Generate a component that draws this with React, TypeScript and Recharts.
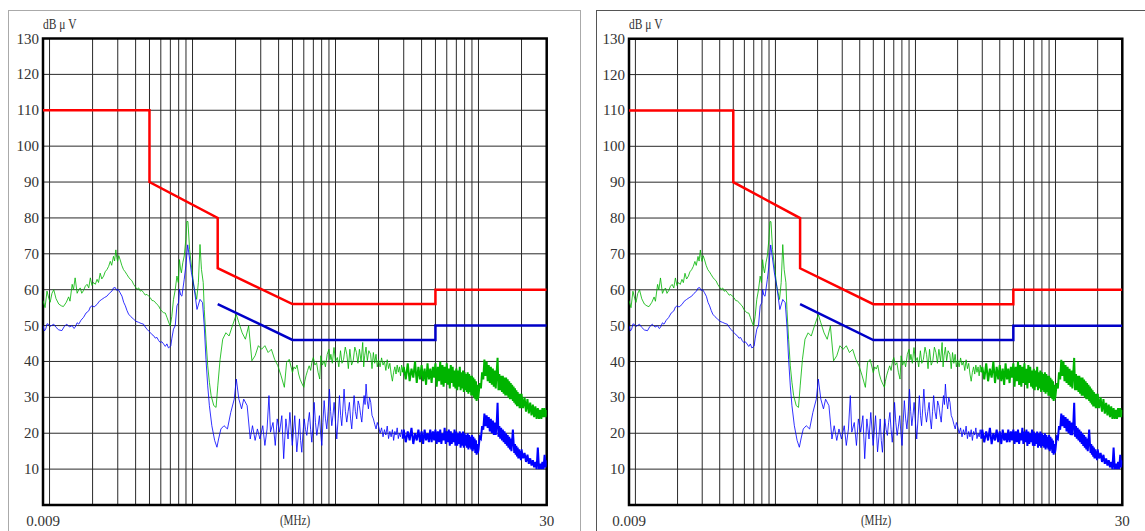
import React from 'react';
import { ComposedChart, Line, XAxis, YAxis, CartesianGrid, ReferenceArea } from 'recharts';

// ---------- axis ticks ----------
const X_TICKS = [0.009, 0.01, 0.02, 0.03, 0.04, 0.05, 0.06, 0.07, 0.08, 0.09, 0.1, 0.2, 0.3, 0.4, 0.5, 0.6, 0.7, 0.8, 0.9, 1, 2, 3, 4, 5, 6, 7, 8, 9, 10, 20, 30];
const X_LABELS: Record<string, string> = { '0.009': '0.009', '30': '30' };
const Y_TICKS = [0, 10, 20, 30, 40, 50, 60, 70, 80, 90, 100, 110, 120, 130];
const X_UNIT = '(MHz)';
const Y_UNIT = 'dB μ V';

// ---------- limit lines [MHz, dBµV] ----------
const QP_LIMIT: [number, number][] = [[0.009, 110], [0.05, 110], [0.05, 90], [0.15, 80], [0.15, 66], [0.5, 56], [5, 56], [5, 60], [30, 60]];
const AV_LIMIT: [number, number][] = [[0.15, 56], [0.5, 46], [5, 46], [5, 50], [30, 50]];

// ---------- measured traces, low-frequency part [MHz, dBµV] ----------
const GREEN_LOW: [number, number][] = [
  [0.009, 57], [0.0093, 55], [0.0096, 59.6], [0.0099, 57.5], [0.0101, 56.5], [0.0104, 59], [0.0107, 60], [0.0111, 57.5], [0.0116, 56], [0.0121, 55.5],
  [0.0125, 55.3], [0.0131, 56.5], [0.0136, 58], [0.0139, 56.8], [0.0144, 61.5], [0.0147, 60], [0.0151, 63.3], [0.0156, 59], [0.016, 60], [0.0164, 60.5],
  [0.0168, 59], [0.0173, 59.8], [0.0178, 61], [0.0183, 61.5], [0.0188, 60.5], [0.0193, 63.3], [0.0198, 61.2], [0.0203, 62], [0.0209, 61.5], [0.0215, 62.9],
  [0.022, 62], [0.0226, 64.6], [0.0232, 63], [0.0239, 63.8], [0.0245, 65], [0.0252, 65.6], [0.0259, 66.5], [0.0266, 67.9], [0.0272, 66.8], [0.028, 69.3],
  [0.0285, 68], [0.0291, 71.1], [0.0295, 69], [0.0299, 67.9], [0.0305, 69.5], [0.0312, 68.3], [0.032, 66.8], [0.0329, 65.6], [0.0338, 65], [0.0348, 64.2],
  [0.0357, 63.5], [0.0367, 62.9], [0.0377, 62.5], [0.0387, 61.5], [0.0398, 60.8], [0.0409, 60.1], [0.042, 60.5], [0.0431, 59.6], [0.0442, 59.8], [0.0454, 59.2],
  [0.0467, 58.5], [0.048, 58.7], [0.0493, 58.2], [0.0506, 57.8], [0.052, 57], [0.0534, 56.9], [0.0549, 56.5], [0.0564, 55.9], [0.0579, 55.5], [0.0594, 54.6],
  [0.061, 54], [0.0627, 53.6], [0.0645, 53.5], [0.0662, 52.3], [0.068, 51], [0.0698, 49.9], [0.0716, 52.5], [0.0736, 57.3], [0.0757, 60], [0.0778, 63.8],
  [0.0795, 62], [0.081, 68.4], [0.0823, 66], [0.0836, 64.7], [0.0855, 67.5], [0.0875, 69.4], [0.0898, 74], [0.0913, 79], [0.0929, 79], [0.0954, 71.2],
  [0.0983, 66.6], [0.1022, 61], [0.1069, 57.3], [0.1099, 62], [0.1128, 72.6], [0.1155, 65.6], [0.1188, 62], [0.1208, 54.5], [0.1242, 46.2], [0.1277, 38.8],
  [0.1312, 34.2], [0.1349, 30.5], [0.1408, 27.7], [0.1461, 27.2], [0.1502, 33.2], [0.1559, 40.6], [0.1626, 46.2], [0.1712, 48], [0.1802, 47.1], [0.1899, 49.9],
  [0.2024, 53.1], [0.211, 50.8], [0.2224, 48], [0.2343, 46.2], [0.2469, 49.9], [0.2602, 40.2], [0.2741, 41.6], [0.2888, 44.4], [0.3043, 43.4], [0.3207, 44.4],
  [0.3379, 42.5], [0.356, 43.4], [0.3751, 40.6], [0.3952, 38.8], [0.4164, 36], [0.4388, 32.8], [0.455, 39.7], [0.4745, 40.6],
  [0.5, 36.9], [0.512, 38.5], [0.5245, 37.9], [0.538, 39], [0.5522, 36.5], [0.566, 35], [0.58, 34], [0.6, 32.8], [0.61, 34.5], [0.6217, 36],
  [0.638, 37.5], [0.6544, 38.8], [0.67, 37.5], [0.685, 40], [0.7, 41.1], [0.718, 39], [0.7372, 39.7], [0.755, 37], [0.776, 35.1], [0.79, 41.6],
  [0.81, 39], [0.832, 40.2], [0.85, 38.5], [0.875, 42], [0.9, 43.4], [0.915, 40.5], [0.928, 42], [0.95, 39.5], [0.976, 43.9], [1.0, 40],
  [1.03, 41.1], [1.055, 38.5], [1.084, 43], [1.11, 39.5], [1.139, 40.6], [1.17, 44], [1.2, 42], [1.23, 38], [1.26, 43.4], [1.295, 39],
  [1.33, 40.2], [1.365, 44], [1.4, 42.5], [1.435, 39.5], [1.47, 43.4], [1.51, 40], [1.55, 45.3], [1.575, 38.5], [1.6, 41.6], [1.635, 44],
  [1.67, 40.2], [1.71, 43], [1.76, 42], [1.8, 38], [1.84, 42.5], [1.88, 39.5], [1.92, 42], [1.96, 38.5],
];

const BLUE_LOW: [number, number][] = [
  [0.009, 50], [0.0092, 48.5], [0.0094, 49], [0.0096, 50.5], [0.0098, 50.4], [0.0101, 49.8], [0.0107, 50.4], [0.0111, 49.5], [0.0116, 48.8], [0.0122, 48.6],
  [0.0127, 49.8], [0.0132, 50.4], [0.0138, 49.6], [0.0144, 50], [0.0148, 49.2], [0.0151, 49.5], [0.0156, 50.8], [0.016, 50.4], [0.0166, 51.5], [0.0173, 52.3],
  [0.018, 53.5], [0.0188, 54.1], [0.0193, 55.2], [0.0198, 55.5], [0.0205, 55.2], [0.0215, 55.9], [0.0223, 56.8], [0.0232, 57.3], [0.0242, 57.8], [0.0252, 58.2],
  [0.0262, 59], [0.0273, 59.6], [0.028, 60.5], [0.0288, 60.6], [0.0295, 59.8], [0.0302, 60.1], [0.031, 59.3], [0.0321, 58.2], [0.033, 56.5], [0.0339, 55.5],
  [0.0348, 54.2], [0.0357, 53.2], [0.037, 52.5], [0.0387, 51.8], [0.0402, 51.2], [0.042, 50.9], [0.0437, 50.6], [0.0454, 50.4], [0.0467, 49.6], [0.048, 49],
  [0.0493, 48.5], [0.0506, 48.1], [0.052, 47.5], [0.0534, 47.2], [0.0549, 46.5], [0.0564, 46.7], [0.058, 45.8], [0.0594, 45.3], [0.061, 45.5], [0.0627, 44.9],
  [0.0645, 44.2], [0.0662, 44.9], [0.0678, 43.8], [0.0692, 44], [0.0705, 44.4], [0.0716, 46.3], [0.0736, 49], [0.0757, 50], [0.0778, 55.5], [0.0799, 56.4],
  [0.081, 60.1], [0.0827, 58.5], [0.0843, 58.2], [0.0875, 62.9], [0.0898, 66.6], [0.0925, 72.5], [0.0948, 69.4], [0.0983, 64.7], [0.1022, 61], [0.1075, 54.5],
  [0.1128, 57.3], [0.1175, 56.4], [0.1208, 49.9], [0.1242, 40.6], [0.1277, 33.2], [0.1312, 27.7], [0.1365, 22.1], [0.1428, 18], [0.1482, 16.1], [0.1522, 18.4],
  [0.158, 21.2], [0.166, 22.1], [0.1755, 21.2], [0.1851, 25.8], [0.1958, 29.5], [0.2024, 35.1], [0.211, 29.5], [0.2203, 26.8], [0.2281, 29.5], [0.241, 27.7],
  [0.2533, 18.4], [0.2627, 22.1], [0.2741, 18], [0.2843, 21.2], [0.2962, 18.4], [0.3099, 22.1], [0.3207, 16.6], [0.3322, 21.2], [0.3425, 30.5], [0.351, 20.3],
  [0.3655, 23], [0.379, 16.6], [0.3911, 24], [0.4062, 20.3], [0.4213, 24.9], [0.4341, 12.9], [0.4497, 24], [0.4658, 18.4], [0.4797, 25.8], [0.4985, 16.6],
  [0.5189, 24.9], [0.5362, 14.8], [0.548, 19], [0.56, 24], [0.57, 18], [0.581, 14.7], [0.592, 20], [0.604, 24], [0.617, 21], [0.63, 19.4],
  [0.643, 23], [0.657, 25.8], [0.67, 21], [0.683, 17.5], [0.696, 22], [0.709, 28.6], [0.724, 23], [0.74, 19.4], [0.756, 22], [0.772, 24.9],
  [0.787, 20], [0.802, 16.6], [0.817, 23], [0.833, 29.1], [0.851, 24], [0.869, 21.2], [0.888, 26], [0.907, 32.3], [0.925, 26], [0.942, 22.1],
  [0.96, 25], [0.978, 28.6], [1.0, 23], [1.021, 18.4], [1.043, 24], [1.066, 30.5], [1.086, 25], [1.106, 22.1], [1.127, 27], [1.148, 32.3],
  [1.173, 26], [1.199, 23.1], [1.225, 26], [1.251, 28.6], [1.275, 24], [1.299, 21.2], [1.324, 26], [1.349, 30.5], [1.378, 26], [1.408, 24],
  [1.44, 29], [1.47, 27.7], [1.5, 25], [1.527, 23.1], [1.555, 27], [1.585, 30.5], [1.61, 28], [1.636, 33.7], [1.667, 29], [1.699, 26.8],
  [1.73, 30], [1.764, 28.6], [1.8, 25], [1.841, 24], [1.88, 22.5], [1.922, 21.2], [1.96, 23],
];

// ---------- measured traces, dense sweep part (2–30 MHz) ----------
const DENSE_F = [
  2.0, 2.05, 2.1, 2.15, 2.2, 2.25, 2.3, 2.35, 2.4, 2.45, 2.5, 2.55, 2.6, 2.65, 2.7, 2.75, 2.8, 2.85, 2.9, 2.95,
  3.0, 3.1, 3.2, 3.3, 3.4, 3.5, 3.6, 3.7, 3.8, 3.9, 4.0, 4.1, 4.2, 4.3, 4.4, 4.5, 4.6, 4.7, 4.8, 4.9,
  5.0, 5.1, 5.2, 5.3, 5.4, 5.5, 5.6, 5.7, 5.8, 5.9, 6.0, 6.1, 6.2, 6.3, 6.4, 6.5, 6.6, 6.7, 6.8, 6.9,
  7.0, 7.1, 7.2, 7.3, 7.4, 7.5, 7.6, 7.7, 7.8, 7.9, 8.0, 8.1, 8.2, 8.3, 8.4, 8.5, 8.6, 8.7, 8.8, 8.9,
  9.0, 9.1, 9.2, 9.3, 9.4, 9.5, 9.6, 9.7, 9.8, 9.9,
  10.0, 10.2, 10.4, 10.6, 10.8, 11.0, 11.2, 11.4, 11.6, 11.8, 12.0, 12.2, 12.4, 12.6, 12.8, 13.0, 13.2, 13.4, 13.6, 13.8,
  14.0, 14.2, 14.4, 14.6, 14.8, 15.0, 15.2, 15.4, 15.6, 15.8, 16.0, 16.2, 16.4, 16.6, 16.8, 17.0, 17.2, 17.4, 17.6, 17.8,
  18.0, 18.2, 18.4, 18.6, 18.8, 19.0, 19.2, 19.4, 19.6, 19.8,
  20, 20.5, 21, 21.5, 22, 22.5, 23, 23.5, 24, 24.5, 25, 25.5, 26, 26.5, 27, 27.5, 28, 28.5, 29, 29.5, 30,
];
const GREEN_DENSE = [
  40.5, 38.5, 41, 39, 40, 37.5, 40.5, 38, 39.5, 36.5, 34.5, 37, 38.5, 36.5, 39, 37, 38.5, 36, 39, 37,
  38.5, 35, 39.5, 34.5, 38, 35.5, 40, 34, 38.5, 35, 39, 34.5, 38, 33.5, 39.5, 35, 38, 34, 38.5, 35.5,
  39.5, 33, 38.5, 34.5, 40, 33.5, 39, 33, 38.5, 34, 39.5, 33.5, 38, 32.5, 39, 34, 38.5, 33, 37.5, 32.5,
  38, 32, 37.5, 33, 38.5, 32, 37, 32.5, 37.5, 31.5, 37, 32, 36.5, 31.5, 37, 31, 36.5, 31.5, 36, 30.5,
  36, 30.5, 35.5, 30, 35, 29.5, 34.5, 29, 33.5, 29.5,
  30.5, 34, 32.5, 37, 35, 40.5, 36, 40, 34.5, 39, 34, 38.5, 33.5, 38, 33, 37.5, 32.5, 37, 41, 32,
  36.5, 32, 36, 31.5, 36, 31, 35.5, 30.5, 35.5, 30.5, 35, 30, 34.5, 29.5, 34, 29.5, 33.5, 29, 33, 28.5,
  32.5, 28, 32, 27.5, 31.5, 27.5, 31, 27, 31, 27,
  31, 27, 30, 26, 29.5, 25.5, 28.5, 25, 28, 24.5, 27.5, 24, 27, 24, 26.5, 24, 27, 24.5, 27, 24.5, 26.5,
];
const BLUE_DENSE = [
  22, 20, 21.5, 19, 21, 19.5, 22, 18.5, 20.5, 19, 21, 18, 20.5, 19.5, 21.5, 18.5, 20, 19, 21, 18.5,
  21, 17.5, 20.5, 18, 21.5, 17, 20, 18, 21, 17.5, 20.5, 17, 21, 18, 20, 17.5, 21, 17.5, 20.5, 18,
  21, 17, 20.5, 17.5, 21, 17, 20, 18, 21.5, 17, 20.5, 17.5, 21, 16.5, 20.5, 17, 20, 17.5, 21, 16.5,
  20.5, 16.5, 20, 17, 20.5, 16, 20, 16.5, 20.5, 16, 20, 16.5, 19.5, 16, 20, 15.5, 19.5, 16, 19, 15.5,
  19.5, 15, 19, 15.5, 18.5, 14.5, 18, 14, 17, 14.5,
  15.5, 19, 18.5, 22, 21, 25.5, 22, 25, 21.5, 24.5, 20.5, 24, 20, 23.5, 19.5, 23, 19.5, 22.5, 28.5, 19,
  22, 18.5, 21.5, 18, 21, 17.5, 20.5, 17, 20, 16.5, 19.5, 16, 19, 15.5, 18.5, 15, 18, 21, 17.5, 14.5,
  17, 14, 16.5, 13.5, 16, 13, 15.5, 13, 15, 12.5,
  15.5, 13, 14.5, 12, 14, 11.5, 13, 11, 12.5, 10.5, 12, 10, 16, 10, 11.5, 10, 12, 10, 14, 10.5, 12.5,
];

// ---------- tables built from the arrays ----------
const DENSE_START = 2.95; // sweep becomes a solid band from here on
const pairsToRows = (p: [number, number][]) => p.map(([f, v]) => ({ f, v }));
const zipRows = (fs: number[], vs: number[]) => fs.map((f, i) => ({ f, v: vs[i] }));
const qpRows = pairsToRows(QP_LIMIT);
const avRows = pairsToRows(AV_LIMIT);
const greenDenseRows = zipRows(DENSE_F, GREEN_DENSE);
const blueDenseRows = zipRows(DENSE_F, BLUE_DENSE);
const greenThinRows = [...pairsToRows(GREEN_LOW), ...greenDenseRows.filter((r) => r.f <= DENSE_START)];
const blueThinRows = [...pairsToRows(BLUE_LOW), ...blueDenseRows.filter((r) => r.f <= DENSE_START)];
const greenBandRows = greenDenseRows.filter((r) => r.f >= DENSE_START);
const blueBandRows = blueDenseRows.filter((r) => r.f >= DENSE_START);

const FONT = "'Liberation Serif', 'DejaVu Serif', serif";
const AXIS_W = 43;
const CHART_H = 531;
const XAXIS_H = 26;
const GREEN = '#00b400';
const BLUE = '#0000ff';

const XTick = (props: any) => {
  const label = X_LABELS[String(props.payload?.value)];
  if (!label) return <g />;
  return (
    <text x={props.x} y={526} textAnchor="middle" fontSize={15} fontFamily={FONT} fill="#333">
      {label}
    </text>
  );
};

const YTick = (props: any) => {
  const v = props.payload?.value;
  if (!v) return <g />;
  return (
    <text x={AXIS_W - 4} y={props.y} dy={5} textAnchor="end" fontSize={15} fontFamily={FONT} fill="#333">
      {v}
    </text>
  );
};

function Panel({ left, width, marginRight, marginTop }: { left: number; width: number; marginRight: number; marginTop: number }) {
  const plotLeft = AXIS_W;
  const plotRight = width - marginRight;
  const center = (plotLeft + plotRight) / 2;
  return (
    <div style={{ position: 'absolute', left, top: 0, width, height: CHART_H }}>
      <ComposedChart width={width} height={CHART_H} margin={{ top: marginTop, right: marginRight, bottom: 0, left: 0 }}>
        <CartesianGrid stroke="#2a2a2a" strokeWidth={1} />
        <XAxis
          dataKey="f"
          type="number"
          scale="log"
          domain={[0.009, 30]}
          allowDataOverflow
          ticks={X_TICKS}
          interval={0}
          height={XAXIS_H}
          axisLine={false}
          tickLine={false}
          tick={XTick}
        />
        <YAxis
          type="number"
          domain={[0, 130]}
          allowDataOverflow
          ticks={Y_TICKS}
          interval={0}
          width={AXIS_W}
          axisLine={false}
          tickLine={false}
          tick={YTick}
        />
        <Line data={greenThinRows} dataKey="v" type="linear" stroke={GREEN} strokeOpacity={0.8} strokeWidth={1} dot={false} activeDot={false} isAnimationActive={false} />
        <Line data={greenBandRows} dataKey="v" type="linear" stroke={GREEN} strokeWidth={2} dot={false} activeDot={false} isAnimationActive={false} />
        <Line data={blueThinRows} dataKey="v" type="linear" stroke={BLUE} strokeOpacity={0.8} strokeWidth={1} dot={false} activeDot={false} isAnimationActive={false} />
        <Line data={blueBandRows} dataKey="v" type="linear" stroke={BLUE} strokeWidth={2} dot={false} activeDot={false} isAnimationActive={false} />
        <Line data={qpRows} dataKey="v" type="linear" stroke="#ff0000" strokeWidth={2.5} dot={false} activeDot={false} isAnimationActive={false} />
        <Line data={avRows} dataKey="v" type="linear" stroke="#0000c8" strokeWidth={2.5} dot={false} activeDot={false} isAnimationActive={false} />
        <ReferenceArea x1={0.009} x2={30} y1={0} y2={130} fill="none" fillOpacity={0} stroke="#000" strokeWidth={2.5} ifOverflow="visible" />
      </ComposedChart>
      <div
        style={{
          position: 'absolute', left: plotLeft, top: 17, fontFamily: FONT, fontSize: 14, lineHeight: '16px',
          color: '#333', whiteSpace: 'nowrap', transform: 'scaleX(0.82)', transformOrigin: 'left top',
        }}
      >
        {Y_UNIT}
      </div>
      <div
        style={{
          position: 'absolute', left: center - 50, width: 100, top: 512, textAlign: 'center', fontFamily: FONT,
          fontSize: 15, lineHeight: '17px', color: '#333', whiteSpace: 'nowrap', transform: 'scaleX(0.74)',
        }}
      >
        {X_UNIT}
      </div>
    </div>
  );
}

export default function App() {
  return (
    <div style={{ position: 'absolute', left: 0, top: 0, width: 1145, height: 531, overflow: 'hidden', background: '#fff' }}>
      <div style={{ position: 'absolute', left: 8, top: 10, width: 571, height: 560, border: '1px solid #aaa' }} />
      <div style={{ position: 'absolute', left: 596, top: 10, width: 600, height: 560, border: '1px solid #555' }} />
      <Panel left={0} width={560} marginRight={13.3} marginTop={38.5} />
      <Panel left={586} width={559} marginRight={22.7} marginTop={38.7} />
    </div>
  );
}
